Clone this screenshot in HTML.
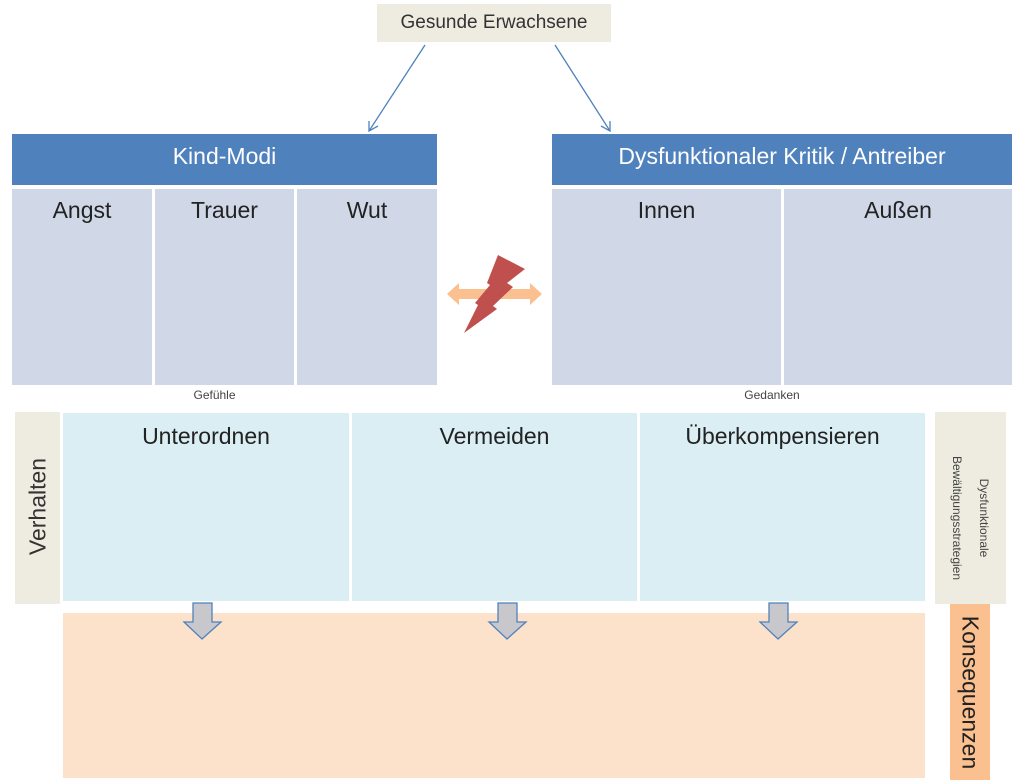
<!DOCTYPE html>
<html><head><meta charset="utf-8"><style>
body{margin:0;width:1024px;height:784px;background:#fff;position:relative;overflow:hidden;font-family:"Liberation Sans",sans-serif;}
.a{position:absolute;box-sizing:border-box}
.t{position:absolute;text-align:center;color:#222}
</style></head><body>
<div class="a" style="left:377px;top:4px;width:234px;height:38px;background:#eeece1"></div>
<div class="t" style="left:377px;top:12px;width:234px;font-size:19px;color:#333">Gesunde Erwachsene</div>

<div class="a" style="left:12px;top:134px;width:425px;height:51px;background:#4f81bd"></div>
<div class="t" style="left:12px;top:143px;width:425px;font-size:23px;color:#fff">Kind-Modi</div>
<div class="a" style="left:12px;top:189px;width:140px;height:196px;background:#d0d8e8"></div>
<div class="a" style="left:155px;top:189px;width:139px;height:196px;background:#d0d8e8"></div>
<div class="a" style="left:297px;top:189px;width:140px;height:196px;background:#d0d8e8"></div>
<div class="t" style="left:12px;top:197px;width:140px;font-size:23px">Angst</div>
<div class="t" style="left:155px;top:197px;width:139px;font-size:23px">Trauer</div>
<div class="t" style="left:297px;top:197px;width:140px;font-size:23px">Wut</div>
<div class="t" style="left:12px;top:388px;width:405px;font-size:12px;color:#444">Gefühle</div>

<div class="a" style="left:552px;top:134px;width:460px;height:51px;background:#4f81bd"></div>
<div class="t" style="left:552px;top:143px;width:460px;font-size:23px;color:#fff">Dysfunktionaler Kritik / Antreiber</div>
<div class="a" style="left:552px;top:189px;width:229px;height:196px;background:#d0d8e8"></div>
<div class="a" style="left:784px;top:189px;width:228px;height:196px;background:#d0d8e8"></div>
<div class="t" style="left:552px;top:197px;width:229px;font-size:23px">Innen</div>
<div class="t" style="left:784px;top:197px;width:228px;font-size:23px">Außen</div>
<div class="t" style="left:552px;top:388px;width:440px;font-size:12px;color:#444">Gedanken</div>

<div class="a" style="left:15px;top:412px;width:45px;height:192px;background:#eeece1"></div>
<div class="t" style="left:-58px;top:493px;width:192px;font-size:23px;transform:rotate(-90deg);color:#333">Verhalten</div>
<div class="a" style="left:63px;top:413px;width:286px;height:188px;background:#daeef3"></div>
<div class="a" style="left:352px;top:413px;width:285px;height:188px;background:#daeef3"></div>
<div class="a" style="left:640px;top:413px;width:285px;height:188px;background:#daeef3"></div>
<div class="t" style="left:63px;top:423px;width:286px;font-size:23px">Unterordnen</div>
<div class="t" style="left:352px;top:423px;width:285px;font-size:23px">Vermeiden</div>
<div class="t" style="left:640px;top:423px;width:285px;font-size:23px">Überkompensieren</div>

<div class="a" style="left:63px;top:613px;width:862px;height:165px;background:#fde2cb"></div>

<div class="a" style="left:935px;top:412px;width:71px;height:192px;background:#eeece1"></div>
<div class="t" style="left:874px;top:491px;width:192px;font-size:12px;line-height:27px;transform:rotate(90deg);color:#444">Dysfunktionale<br>Bewältigungsstrategien</div>
<div class="a" style="left:950px;top:604px;width:40px;height:176px;background:#fac090"></div>
<div class="t" style="left:882px;top:679px;width:176px;font-size:23px;transform:rotate(90deg);color:#222">Konsequenzen</div>

<svg class="a" style="left:0;top:0" width="1024" height="784">
<g stroke="#4f81bd" stroke-width="1.3" fill="none">
<line x1="425" y1="45" x2="369" y2="131"/><polyline points="369,121 369,131 378,126"/>
<line x1="555" y1="45" x2="610" y2="131"/><polyline points="601,126 610,131 610,121"/>
</g>
<polygon points="447,294 459,283 459,289 530,289 530,283 542,294 530,305 530,299 459,299 459,305" fill="#fac090"/>
<polygon points="498,255 525,269 507,283 513,287 493,306 497,309 464,333 478,305 475,303 490,285 487,283" fill="#c0504d"/>
<g fill="#c8c8cc" stroke="#4f81bd" stroke-width="1.3">
<polygon points="193,603 212,603 212,622 221,622 202,639 184,622 193,622"/>
<polygon points="498,603 517,603 517,622 526,622 507,639 489,622 498,622"/>
<polygon points="769,603 788,603 788,622 797,622 778,639 760,622 769,622"/>
</g>
</svg>
</body></html>
